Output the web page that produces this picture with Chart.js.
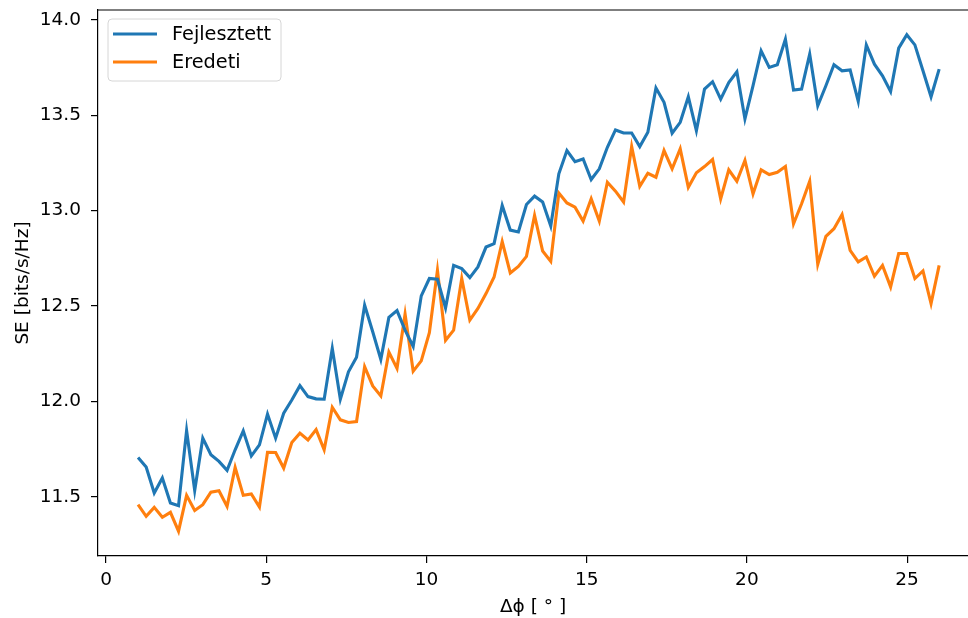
<!DOCTYPE html>
<html>
<head>
<meta charset="utf-8">
<script src="https://cdn.jsdelivr.net/npm/chart.js@4.4.1/dist/chart.umd.min.js"></script>
<style>
  html, body { margin: 0; padding: 0; background: #fff; overflow: hidden; }
  #seChart { display: block; width: 968px; height: 618px; }
</style>
</head>
<body>
<canvas id="seChart" width="968" height="618"></canvas>
<script>
// delta phi in degrees (100 points from 1 to 26)
const deltaPhi = [
  1.000, 1.253, 1.505, 1.758, 2.010, 2.263, 2.515, 2.768, 3.020, 3.273,
  3.525, 3.778, 4.030, 4.283, 4.535, 4.788, 5.040, 5.293, 5.545, 5.798,
  6.051, 6.303, 6.556, 6.808, 7.061, 7.313, 7.566, 7.818, 8.071, 8.323,
  8.576, 8.828, 9.081, 9.333, 9.586, 9.838, 10.091, 10.343, 10.596, 10.848,
  11.101, 11.354, 11.606, 11.859, 12.111, 12.364, 12.616, 12.869, 13.121, 13.374,
  13.626, 13.879, 14.131, 14.384, 14.636, 14.889, 15.141, 15.394, 15.646, 15.899,
  16.152, 16.404, 16.657, 16.909, 17.162, 17.414, 17.667, 17.919, 18.172, 18.424,
  18.677, 18.929, 19.182, 19.434, 19.687, 19.939, 20.192, 20.444, 20.697, 20.949,
  21.202, 21.455, 21.707, 21.960, 22.212, 22.465, 22.717, 22.970, 23.222, 23.475,
  23.727, 23.980, 24.232, 24.485, 24.737, 24.990, 25.242, 25.495, 25.747, 26.000
];

const fejlesztett = [
  11.706, 11.655, 11.519, 11.598, 11.467, 11.453, 11.847, 11.533, 11.807, 11.720,
  11.685, 11.638, 11.746, 11.845, 11.714, 11.772, 11.933, 11.807, 11.938, 12.007,
  12.082, 12.025, 12.013, 12.011, 12.278, 12.011, 12.155, 12.231, 12.504, 12.365,
  12.220, 12.440, 12.476, 12.373, 12.288, 12.553, 12.644, 12.640, 12.490, 12.713,
  12.696, 12.649, 12.705, 12.809, 12.827, 13.027, 12.898, 12.888, 13.032, 13.076,
  13.045, 12.919, 13.193, 13.315, 13.257, 13.271, 13.163, 13.219, 13.332, 13.423,
  13.407, 13.407, 13.336, 13.411, 13.643, 13.568, 13.406, 13.463, 13.597, 13.419,
  13.637, 13.676, 13.585, 13.672, 13.728, 13.481, 13.655, 13.838, 13.751, 13.765,
  13.899, 13.632, 13.637, 13.821, 13.550, 13.655, 13.765, 13.733, 13.738, 13.573,
  13.869, 13.768, 13.707, 13.625, 13.852, 13.922, 13.869, 13.733, 13.597, 13.742
];

const eredeti = [
  11.458, 11.397, 11.444, 11.392, 11.418, 11.319, 11.507, 11.428, 11.458, 11.524,
  11.531, 11.449, 11.653, 11.507, 11.514, 11.446, 11.733, 11.732, 11.650, 11.784,
  11.833, 11.797, 11.852, 11.746, 11.969, 11.903, 11.889, 11.894, 12.182, 12.081,
  12.028, 12.258, 12.173, 12.458, 12.158, 12.212, 12.360, 12.687, 12.320, 12.373,
  12.644, 12.426, 12.487, 12.565, 12.652, 12.838, 12.673, 12.707, 12.760, 12.975,
  12.788, 12.734, 13.092, 13.040, 13.018, 12.945, 13.062, 12.945, 13.149, 13.102,
  13.045, 13.336, 13.127, 13.196, 13.175, 13.315, 13.219, 13.324, 13.122, 13.198,
  13.231, 13.268, 13.062, 13.214, 13.154, 13.263, 13.088, 13.214, 13.189, 13.201,
  13.231, 12.931, 13.036, 13.154, 12.719, 12.865, 12.905, 12.980, 12.792, 12.731,
  12.757, 12.656, 12.713, 12.600, 12.775, 12.775, 12.644, 12.684, 12.513, 12.713
];

const seriesNames = ['Fejlesztett', 'Eredeti'];
const xTicks = [0, 5, 10, 15, 20, 25];
const yTicks = [11.5, 12.0, 12.5, 13.0, 13.5, 14.0];

const FONT = 'DejaVu Sans';

function toPoints(ys) {
  return ys.map((y, i) => ({ x: deltaPhi[i], y: y }));
}

// top spine + matplotlib style legend box (right spine is cut off by the crop)
const framePlugin = {
  id: 'frame',
  afterDraw(chart) {
    const ctx = chart.ctx;
    const a = chart.chartArea;
    ctx.save();
    ctx.strokeStyle = '#000';
    ctx.lineWidth = 1.2;
    ctx.beginPath();
    ctx.moveTo(a.left, a.top);
    ctx.lineTo(chart.width, a.top);
    ctx.stroke();

    // legend
    const bx = a.left + 10, by = a.top + 9, bw = 173, bh = 62, r = 4;
    ctx.beginPath();
    ctx.moveTo(bx + r, by);
    ctx.arcTo(bx + bw, by, bx + bw, by + bh, r);
    ctx.arcTo(bx + bw, by + bh, bx, by + bh, r);
    ctx.arcTo(bx, by + bh, bx, by, r);
    ctx.arcTo(bx, by, bx + bw, by, r);
    ctx.closePath();
    ctx.fillStyle = 'rgba(255,255,255,0.8)';
    ctx.fill();
    ctx.strokeStyle = '#d6d6d6';
    ctx.lineWidth = 1;
    ctx.stroke();

    ctx.font = '19.3px "' + FONT + '"';
    ctx.textBaseline = 'middle';
    ctx.textAlign = 'left';
    chart.data.datasets.forEach((ds, i) => {
      const yy = by + 15 + i * 28;
      ctx.strokeStyle = ds.borderColor;
      ctx.lineWidth = 3.2;
      ctx.beginPath();
      ctx.moveTo(bx + 5, yy);
      ctx.lineTo(bx + 49, yy);
      ctx.stroke();
      ctx.fillStyle = '#000';
      ctx.fillText(ds.label, bx + 64, yy + 1);
    });
    ctx.restore();
  }
};

const ctx = document.getElementById('seChart').getContext('2d');
const seChart = new Chart(ctx, {
  type: 'line',
  data: {
    datasets: [
      {
        label: seriesNames[0],
        data: toPoints(fejlesztett),
        borderColor: '#1f77b4',
        borderWidth: 3.1,
        pointRadius: 0,
        tension: 0,
        fill: false
      },
      {
        label: seriesNames[1],
        data: toPoints(eredeti),
        borderColor: '#ff7f0e',
        borderWidth: 3.1,
        pointRadius: 0,
        tension: 0,
        fill: false
      }
    ]
  },
  options: {
    responsive: false,
    animation: false,
    devicePixelRatio: 1,
    layout: { padding: { top: 10, right: 0, left: 0, bottom: 0 } },
    plugins: {
      legend: { display: false },
      tooltip: { enabled: false }
    },
    scales: {
      x: {
        type: 'linear',
        min: -0.25,
        max: 26.9,
        afterBuildTicks: (scale) => { scale.ticks = xTicks.map(v => ({ value: v })); },
        afterFit: (scale) => {
          scale.height = 62;
          scale.paddingLeft = 0;
          scale.paddingRight = 0;
        },
        border: { display: true, color: '#000', width: 1.2 },
        grid: { drawOnChartArea: false, drawTicks: true, tickLength: 7, color: '#000', lineWidth: 1.2 },
        ticks: {
          color: '#000',
          padding: 6,
          maxRotation: 0,
          autoSkip: false,
          font: { family: FONT, size: 18.5 },
          callback: (v) => String(v)
        },
        title: {
          display: true,
          text: 'Δϕ [ ° ]',
          color: '#000',
          padding: { top: 2, bottom: 0 },
          font: { family: FONT, size: 18.5 }
        }
      },
      y: {
        type: 'linear',
        min: 11.189,
        max: 14.052,
        afterBuildTicks: (scale) => { scale.ticks = yTicks.map(v => ({ value: v })); },
        afterFit: (scale) => {
          scale.width = 98;
          scale.paddingTop = 0;
          scale.paddingBottom = 0;
        },
        border: { display: true, color: '#000', width: 1.2 },
        grid: { drawOnChartArea: false, drawTicks: true, tickLength: 7, color: '#000', lineWidth: 1.2 },
        ticks: {
          color: '#000',
          padding: 10,
          autoSkip: false,
          font: { family: FONT, size: 18.5 },
          callback: (v) => Number(v).toFixed(1)
        },
        title: {
          display: true,
          text: 'SE [bits/s/Hz]',
          color: '#000',
          padding: { top: 12, bottom: 4 },
          font: { family: FONT, size: 18.5 }
        }
      }
    }
  },
  plugins: [framePlugin]
});
</script>
</body>
</html>
